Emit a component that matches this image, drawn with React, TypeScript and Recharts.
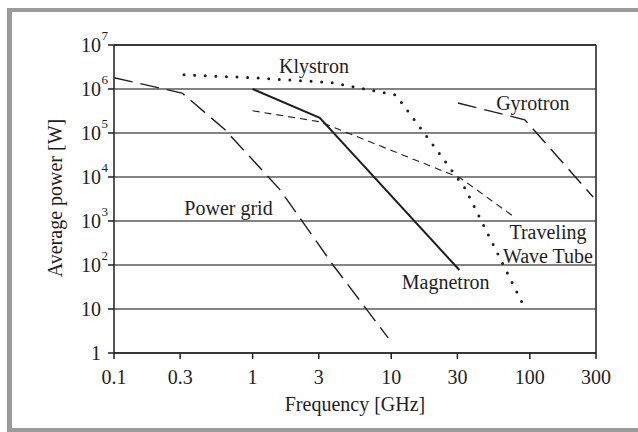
import { LineChart, Line, XAxis, YAxis, CartesianGrid, ReferenceLine, ReferenceDot } from "recharts";

const FONT = '"Liberation Serif", "Times New Roman", serif';
const INK = "#1e1e1e";

// frequency [GHz] / average power [W]
const powerGridFreq = [0.1, 0.31, 0.63, 1.58, 3.8, 9.5];
const powerGridW = [1.8e6, 8.1e5, 1.2e5, 5.1e3, 100, 2.2];

const klystronFreq = [0.32, 1, 3.7, 7.6, 10.8, 34, 88];
const klystronW = [2.1e6, 1.8e6, 1.4e6, 9e5, 7.3e5, 5.6e3, 14];

const magnetronFreq = [1, 3.05, 31];
const magnetronW = [1e6, 2.2e5, 77];

const twtFreq = [1, 3.05, 31.5, 78];
const twtW = [3.2e5, 1.8e5, 9.5e3, 1.2e3];

const gyrotronFreq = [30.3, 92, 286];
const gyrotronW = [4.8e5, 2e5, 3.5e3];

const freqTicks = [0.1, 0.3, 1, 3, 10, 30, 100, 300];
const powerTicks = [1, 10, 100, 1e3, 1e4, 1e5, 1e6, 1e7];

// series name labels: text, frequency, power
const labelText = ["Klystron", "Gyrotron", "Power grid", "Magnetron", "Traveling", "Wave Tube"];
const labelFreq = [2.77, 105, 0.67, 24.7, 135, 135];
const labelW = [3.3e6, 4.9e5, 2.03e3, 41, 562, 164];

const toPoints = (fs: number[], ps: number[]) => fs.map((f, i) => ({ f, p: ps[i] }));

function PowerTick(props: any) {
  const { x, y, payload } = props;
  const e = Math.round(Math.log10(payload.value));
  if (e < 2) {
    return (
      <text x={x} y={y} dy={7} textAnchor="end" fontFamily={FONT} fontSize={20} fill={INK}>
        {payload.value}
      </text>
    );
  }
  return (
    <g fontFamily={FONT} fill={INK}>
      <text x={x} y={y} dy={7} textAnchor="end" fontSize={20}>10</text>
      <text x={x + 0.5} y={y} dy={-5} textAnchor="start" fontSize={13}>{e}</text>
    </g>
  );
}

function FreqTick(props: any) {
  const { x, y, payload } = props;
  return (
    <text x={x} y={y} dy={21} textAnchor="middle" fontFamily={FONT} fontSize={20} fill={INK}>
      {payload.value}
    </text>
  );
}

export default function App() {
  return (
    <div style={{ position: "relative", width: 638, height: 432, background: "#fff" }}>
      <style>{"html,body{margin:0;overflow:hidden;background:#fff}"}</style>
      <div
        style={{
          position: "absolute",
          left: 7,
          top: 8,
          width: 631,
          height: 416,
          borderLeft: "5px solid #9b9b9b",
          borderTop: "4px solid #9b9b9b",
          borderBottom: "4px solid #9b9b9b",
        }}
      />
      <div style={{ position: "absolute", left: 0, top: 0 }}>
        <LineChart width={638} height={432} margin={{ top: 45, right: 42, bottom: 49, left: 14 }}>
          <CartesianGrid horizontal vertical={false} stroke="#5a5a5a" strokeWidth={1.4} />
          <XAxis
            dataKey="f"
            type="number"
            scale="log"
            domain={[0.1, 300]}
            ticks={freqTicks}
            allowDataOverflow
            height={30}
            tickSize={6}
            tickMargin={4}
            tick={<FreqTick />}
            stroke={INK}
            strokeWidth={1.5}
            label={{ value: "Frequency [GHz]", position: "bottom", offset: 14, fontFamily: FONT, fontSize: 20, fill: INK }}
          />
          <YAxis
            type="number"
            scale="log"
            domain={[1, 1e7]}
            ticks={powerTicks}
            allowDataOverflow
            width={100}
            tickSize={6}
            tickMargin={7}
            tick={<PowerTick />}
            stroke={INK}
            strokeWidth={1.5}
            label={{
              content: () => (
                <text
                  x={62}
                  y={198}
                  transform="rotate(-90, 62, 198)"
                  textAnchor="middle"
                  fontFamily={FONT}
                  fontSize={20}
                  fill={INK}
                >
                  Average power [W]
                </text>
              ),
            }}
          />
          <ReferenceLine x={300} stroke={INK} strokeWidth={1.5} />
          <ReferenceLine y={1e7} stroke={INK} strokeWidth={1.5} />

          <Line
            data={toPoints(powerGridFreq, powerGridW)}
            dataKey="p"
            stroke={INK}
            strokeWidth={1.4}
            strokeDasharray="19 8"
            dot={false}
            activeDot={false}
            isAnimationActive={false}
          />
          <Line
            data={toPoints(klystronFreq, klystronW)}
            dataKey="p"
            stroke={INK}
            strokeWidth={3}
            strokeLinecap="round"
            strokeDasharray="0 10.6"
            dot={false}
            activeDot={false}
            isAnimationActive={false}
          />
          <Line
            data={toPoints(magnetronFreq, magnetronW)}
            dataKey="p"
            stroke={INK}
            strokeWidth={2}
            dot={false}
            activeDot={false}
            isAnimationActive={false}
          />
          <Line
            data={toPoints(twtFreq, twtW)}
            dataKey="p"
            stroke={INK}
            strokeWidth={1.1}
            strokeDasharray="7 5"
            dot={false}
            activeDot={false}
            isAnimationActive={false}
          />
          <Line
            data={toPoints(gyrotronFreq, gyrotronW)}
            dataKey="p"
            stroke={INK}
            strokeWidth={1.4}
            strokeDasharray="19 8"
            dot={false}
            activeDot={false}
            isAnimationActive={false}
          />

          {labelText.map((t, i) => (
            <ReferenceDot
              key={t}
              x={labelFreq[i]}
              y={labelW[i]}
              r={0}
              fill="none"
              stroke="none"
              label={{ value: t, position: "center", fontFamily: FONT, fontSize: 20, fill: INK }}
            />
          ))}
        </LineChart>
      </div>
    </div>
  );
}
